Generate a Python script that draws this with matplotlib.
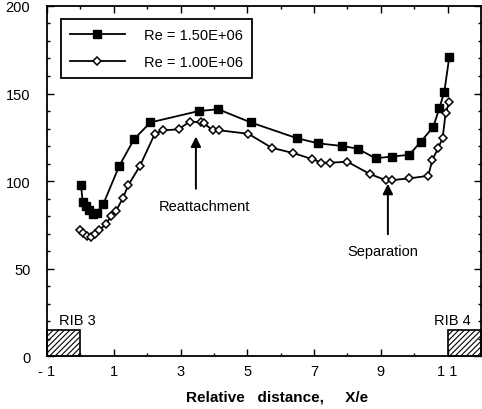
import matplotlib
matplotlib.use("Agg")
from matplotlib import pyplot as plt
from matplotlib.patches import Rectangle
from matplotlib.ticker import MultipleLocator, FixedLocator

plt.rcParams['font.family'] = ['Liberation Sans', 'DejaVu Sans']
plt.rcParams['hatch.linewidth'] = 0.8

# Re = 1.50E+06
x_hi = [0.02, 0.07, 0.16, 0.26, 0.37, 0.49, 0.69, 1.16, 1.61, 2.10, 3.55, 4.13,
        5.10, 6.48, 7.13, 7.85, 8.30, 8.84, 9.34, 9.85, 10.20, 10.57, 10.75,
        10.90, 11.05]
y_hi = [97.5, 88, 86, 83.5, 81, 82, 87, 108.5, 124, 133.5, 140, 141,
        133.5, 124.5, 121.5, 120, 118.5, 113, 114, 115, 122.5, 131, 141.5,
        151, 171]

# Re = 1.00E+06
x_lo = [-0.01, 0.09, 0.19, 0.31, 0.44, 0.57, 0.77, 0.92, 1.07, 1.28, 1.43, 1.78,
        2.23, 2.48, 2.94, 3.28, 3.60, 3.70, 3.96, 4.15, 5.03, 5.73, 6.37,
        6.95, 7.22, 7.47, 8.00, 8.67, 9.15, 9.32, 9.85, 10.42, 10.54, 10.72,
        10.85, 10.94, 11.05]
y_lo = [72, 70.5, 68.5, 68, 69.5, 72, 75.5, 80, 83, 90.5, 97.5, 108.5,
        127, 129, 129.5, 134, 133.5, 133, 129, 129, 127, 119, 116,
        112.5, 110.5, 110.5, 111, 104, 100.5, 100.5, 101.5, 103, 112, 119,
        124.5, 139, 145]

ribs = [(-1, "RIB 3"), (11, "RIB 4")]
rib_height = 15

x_ticks = [-1, 1, 3, 5, 7, 9, 11]
x_ticklabels = ["- 1", "1", "3", "5", "7", "9", "1 1"]
y_ticks = [0, 50, 100, 150, 200]

fig = plt.figure(figsize=(4.82, 4.10), dpi=100)
ax = fig.add_axes([0.0975, 0.129, 0.9005, 0.854])

ax.plot(x_hi, y_hi, color='black', lw=1.3, marker='s', ms=6.3,
        mfc='black', mec='black', label="Re = 1.50E+06")
ax.plot(x_lo, y_lo, color='black', lw=1.3, marker='D', ms=3.8,
        mfc='white', mec='black', mew=1.1, label="Re = 1.00E+06")

# rib cross-sections at both ends
for x0, name in ribs:
    ax.add_patch(Rectangle((x0, 0), 1, rib_height, fill=False,
                           hatch='//////', edgecolor='black', lw=1.2,
                           clip_on=False))
ax.text(-0.65, 18.5, "RIB 3", fontsize=10.5)
ax.text(10.58, 18.5, "RIB 4", fontsize=10.5)

ax.annotate("", xy=(3.46, 127), xytext=(3.46, 94),
            arrowprops=dict(arrowstyle='-|>', color='black', lw=1.4,
                            mutation_scale=15))
ax.text(3.72, 85.5, "Reattachment", fontsize=10.5, ha='center', va='center')
ax.annotate("", xy=(9.21, 100), xytext=(9.21, 68),
            arrowprops=dict(arrowstyle='-|>', color='black', lw=1.4,
                            mutation_scale=15))
ax.text(9.06, 60, "Separation", fontsize=10.5, ha='center', va='center')

ax.set_xlim(-1, 12)
ax.set_ylim(0, 200)
ax.set_xticks(x_ticks)
ax.set_xticklabels(x_ticklabels)
ax.xaxis.set_minor_locator(FixedLocator(range(0, 12, 2)))
ax.set_yticks(y_ticks)
ax.yaxis.set_minor_locator(MultipleLocator(10))
ax.tick_params(which='both', direction='in', top=True, right=True,
               labelsize=10.5, width=1.0)
ax.tick_params(which='major', length=5, pad=6)
ax.tick_params(axis='y', which='major', pad=12)
ax.tick_params(which='minor', length=2.5)
for s in ax.spines.values():
    s.set_linewidth(1.3)

ax.set_xlabel("Relative   distance,     X/e", fontsize=11,
              fontweight='bold', labelpad=8)
ax.xaxis.label.set_x(0.53)

leg = ax.legend(loc='upper left', bbox_to_anchor=(0.032, 0.963),
                handlelength=3.8, fontsize=10.5, fancybox=False,
                edgecolor='black', framealpha=1, borderpad=0.6,
                labelspacing=0.9, handletextpad=1.3, borderaxespad=0)
leg.get_frame().set_linewidth(1.3)

plt.savefig("out.png", dpi=100)
